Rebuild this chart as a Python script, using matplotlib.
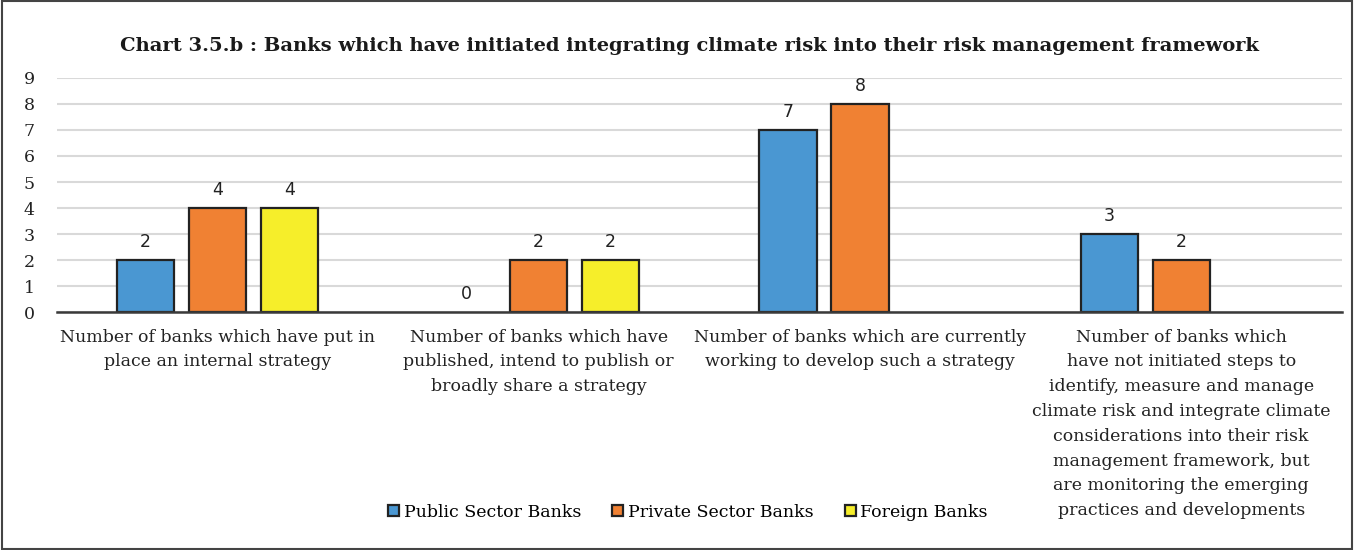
import matplotlib
matplotlib.use("Agg")
import matplotlib.pyplot as plt
from matplotlib.patches import Patch, Rectangle
import numpy as np

categories = [
    "Number of banks which have put in\nplace an internal strategy",
    "Number of banks which have\npublished, intend to publish or\nbroadly share a strategy",
    "Number of banks which are currently\nworking to develop such a strategy",
    "Number of banks which\nhave not initiated steps to\nidentify, measure and manage\n"
    "climate risk and integrate climate\nconsiderations into their risk\n"
    "management framework, but\nare monitoring the emerging\npractices and developments",
]
public_banks = [2, 0, 7, 3]
private_banks = [4, 2, 8, 2]
foreign_banks = [4, 2, None, None]

series = [
    ("Public Sector Banks", public_banks, "#4a97d2"),
    ("Private Sector Banks", private_banks, "#f08133"),
    ("Foreign Banks", foreign_banks, "#f6ee2a"),
]

plt.rcParams["font.family"] = ["DejaVu Serif"]
EDGE = "#222222"

fig = plt.figure(figsize=(13.54, 5.5), dpi=100)
ax = fig.add_axes([0.042, 0.4327, 0.949, 0.4255])

x = np.arange(len(categories))
width = 0.178
step = 0.224
handles = []
for i, (name, vals, color) in enumerate(series):
    offs = x + (i - 1) * step
    for xi, v in zip(offs, vals):
        if v is None:
            continue
        if v > 0:
            ax.bar(xi, v, width=width, color=color, edgecolor=EDGE, linewidth=1.6, zorder=3)
        ax.text(xi, v + 0.35, str(v), ha="center", va="bottom", fontsize=12.5,
                family="DejaVu Sans", color=EDGE)
    handles.append(Patch(facecolor=color, edgecolor=EDGE, linewidth=1.6, label=name))

ax.set_xlim(-0.5, len(categories) - 0.5)
ax.set_ylim(0, 9)
ax.set_yticks(range(10))
ax.tick_params(axis="y", length=0, labelsize=12.5, pad=16, colors=EDGE)
ax.tick_params(axis="x", length=0, pad=12)
ax.set_xticks(x)
ax.set_xticklabels(categories, fontsize=12.5, linespacing=1.6, color=EDGE, va="top")
ax.grid(axis="y", color="#d9d9d9", linewidth=1.5, zorder=0)
for side in ["left", "right", "top"]:
    ax.spines[side].set_visible(False)
ax.spines["bottom"].set_color("#3a3a3a")
ax.spines["bottom"].set_linewidth(1.8)
ax.spines["bottom"].set_zorder(4)

fig.text(0.509, 0.917, "Chart 3.5.b : Banks which have initiated integrating climate risk into their risk management framework",
         ha="center", va="center", fontsize=14, fontweight="bold", color="#1a1a1a")

fig.legend(handles=handles, loc="center", bbox_to_anchor=(0.508, 0.069), ncol=3, frameon=False,
           fontsize=12.5, handlelength=0.65, handleheight=0.65, handletextpad=0.25,
           columnspacing=1.8)

# outer frame
fig.patches.append(Rectangle((0.0015, 0.002), 0.997, 0.996, transform=fig.transFigure,
                             fill=False, edgecolor="#444444", linewidth=1.5))

fig.savefig("out.png", dpi=100)
